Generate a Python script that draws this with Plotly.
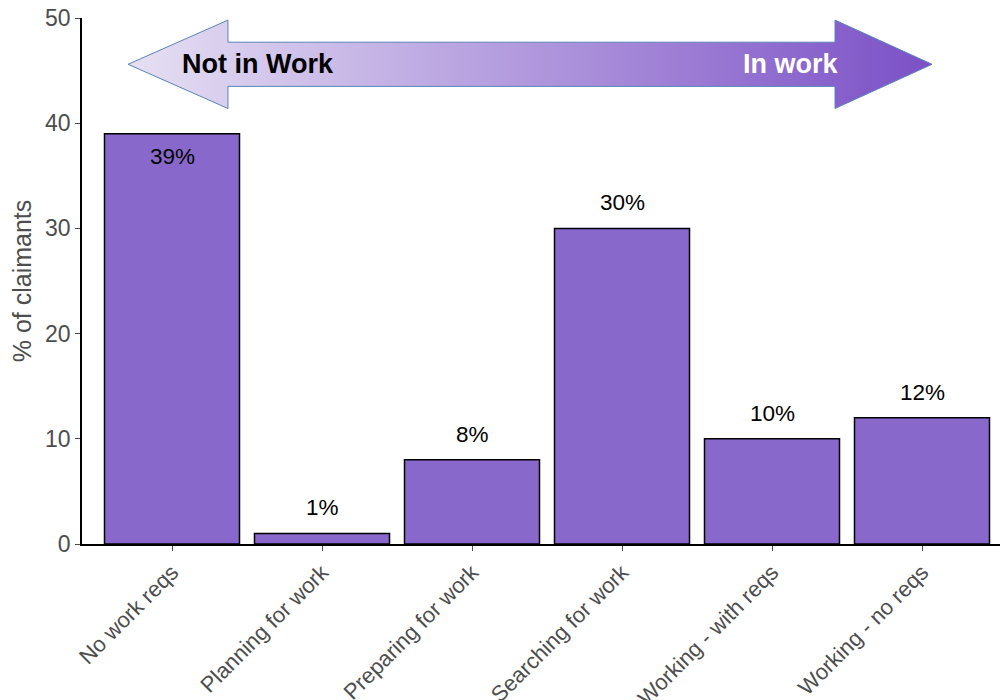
import plotly.graph_objects as go

categories = ["No work reqs", "Planning for work", "Preparing for work",
              "Searching for work", "Working - with reqs", "Working - no reqs"]
values = [39, 1, 8, 30, 10, 12]
labels = ["39%", "1%", "8%", "30%", "10%", "12%"]
y_ticks = [0, 10, 20, 30, 40, 50]

BAR_COLOR = "#8868CA"
GREY = "#4d4d4d"
FONT = "Liberation Sans, Arial, sans-serif"

idx = list(range(len(categories)))

fig = go.Figure()
fig.add_trace(go.Bar(
    x=idx, y=values, width=0.9,
    marker=dict(color=BAR_COLOR, line=dict(color="black", width=1.5)),
    hoverinfo="skip", showlegend=False,
))

# Double-headed gradient arrow (decoration), in data units
ax = [-0.293, 0.373, 0.373, 4.42, 4.42, 5.067, 4.42, 4.42, 0.373, 0.373, -0.293]
ay = [45.6, 49.8, 47.7, 47.7, 49.8, 45.6, 41.4, 43.5, 43.5, 41.4, 45.6]
fig.add_trace(go.Scatter(
    x=ax, y=ay, mode="lines", fill="toself",
    fillgradient=dict(type="horizontal",
                      colorscale=[[0, "#e6e0f3"], [1, "#7b50c6"]]),
    line=dict(color="#5a84b8", width=1),
    hoverinfo="skip", showlegend=False,
))

annotations = []
for i, (v, lab) in enumerate(zip(values, labels)):
    inside = v >= 35
    annotations.append(dict(
        x=i, y=v, text=lab, showarrow=False,
        yanchor="top" if inside else "bottom",
        yshift=-8 if inside else 11,
        font=dict(family=FONT, size=22.5, color="black"),
    ))
annotations.append(dict(x=0.573, y=45.6, text="<b>Not in Work</b>", showarrow=False,
                        xanchor="center", font=dict(family=FONT, size=27, color="black")))
annotations.append(dict(x=4.12, y=45.6, text="<b>In work</b>", showarrow=False,
                        xanchor="center", font=dict(family=FONT, size=27, color="white")))

fig.update_layout(
    width=1000, height=700,
    margin=dict(l=82, r=0, t=18, b=156),
    plot_bgcolor="white", paper_bgcolor="white",
    font=dict(family=FONT, color=GREY),
    annotations=annotations,
    bargap=0.1,
)
fig.update_xaxes(
    range=[-0.6, 5.52], tickvals=idx, ticktext=categories, tickangle=-45,
    showline=True, linecolor="black", linewidth=1.5,
    ticks="outside", ticklen=5, tickcolor=GREY,
    tickfont=dict(family=FONT, size=22, color=GREY),
    showgrid=False, zeroline=False, automargin=False,
)
fig.update_yaxes(
    range=[0, 50], tickvals=y_ticks,
    showline=True, linecolor="black", linewidth=1.5,
    ticks="outside", ticklen=5, tickcolor=GREY,
    tickfont=dict(family=FONT, size=23, color=GREY),
    title=dict(text="% of claimants", font=dict(family=FONT, size=25, color=GREY), standoff=6),
    showgrid=False, zeroline=False, automargin=False,
)

fig.write_html("out.html")
